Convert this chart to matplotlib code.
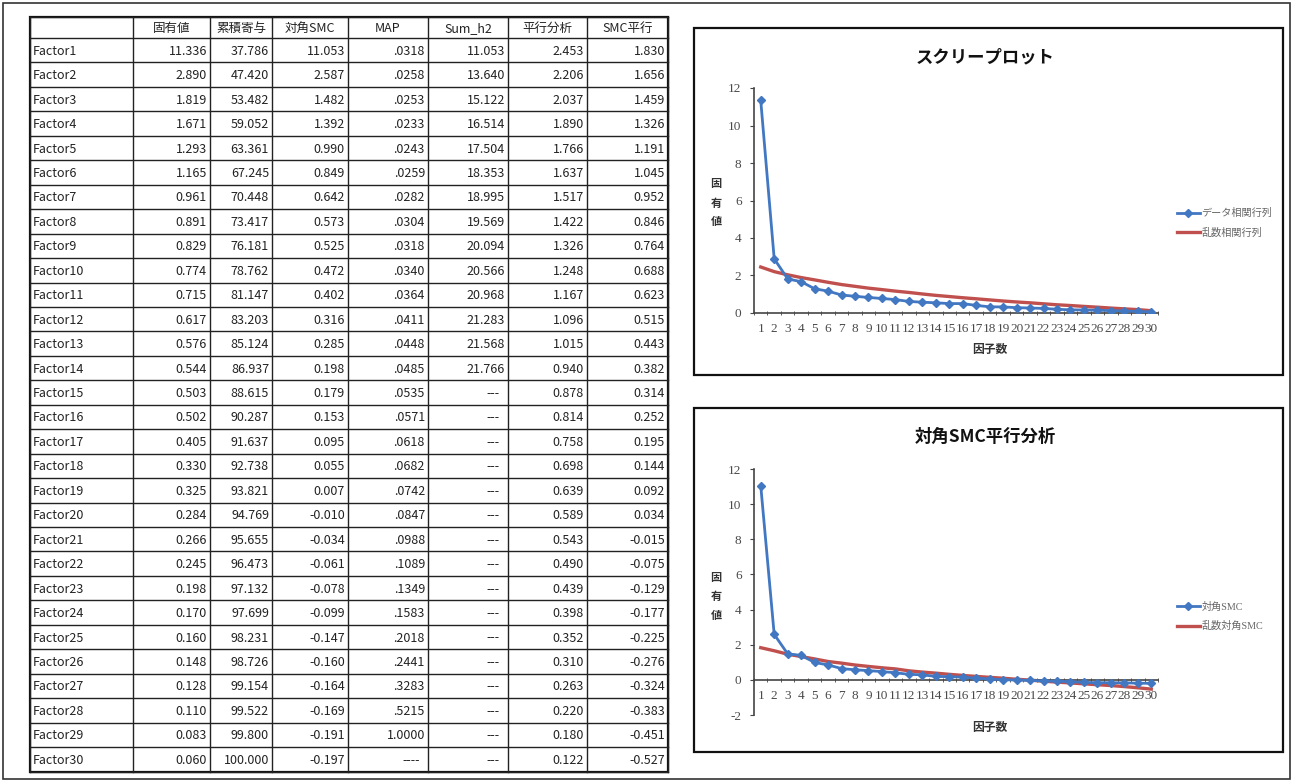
import matplotlib.pyplot as plt
from matplotlib.patches import Rectangle

plt.rcParams['font.family'] = ['Noto Sans CJK JP', 'DejaVu Sans']
plt.rcParams['axes.unicode_minus'] = False

# ---- data ----
factors = [f"Factor{i}" for i in range(1, 31)]
headers = ["", "固有値", "累積寄与", "対角SMC", "MAP", "Sum_h2", "平行分析", "SMC平行"]

eigen = [11.336, 2.890, 1.819, 1.671, 1.293, 1.165, 0.961, 0.891, 0.829, 0.774,
         0.715, 0.617, 0.576, 0.544, 0.503, 0.502, 0.405, 0.330, 0.325, 0.284,
         0.266, 0.245, 0.198, 0.170, 0.160, 0.148, 0.128, 0.110, 0.083, 0.060]
cumul = [37.786, 47.420, 53.482, 59.052, 63.361, 67.245, 70.448, 73.417, 76.181, 78.762,
         81.147, 83.203, 85.124, 86.937, 88.615, 90.287, 91.637, 92.738, 93.821, 94.769,
         95.655, 96.473, 97.132, 97.699, 98.231, 98.726, 99.154, 99.522, 99.800, 100.000]
smc = [11.053, 2.587, 1.482, 1.392, 0.990, 0.849, 0.642, 0.573, 0.525, 0.472,
       0.402, 0.316, 0.285, 0.198, 0.179, 0.153, 0.095, 0.055, 0.007, -0.010,
       -0.034, -0.061, -0.078, -0.099, -0.147, -0.160, -0.164, -0.169, -0.191, -0.197]
map_vals = [0.0318, 0.0258, 0.0253, 0.0233, 0.0243, 0.0259, 0.0282, 0.0304, 0.0318, 0.0340,
            0.0364, 0.0411, 0.0448, 0.0485, 0.0535, 0.0571, 0.0618, 0.0682, 0.0742, 0.0847,
            0.0988, 0.1089, 0.1349, 0.1583, 0.2018, 0.2441, 0.3283, 0.5215, 1.0000, None]
sum_h2 = [11.053, 13.640, 15.122, 16.514, 17.504, 18.353, 18.995, 19.569, 20.094, 20.566,
          20.968, 21.283, 21.568, 21.766] + [None] * 16
parallel = [2.453, 2.206, 2.037, 1.890, 1.766, 1.637, 1.517, 1.422, 1.326, 1.248,
            1.167, 1.096, 1.015, 0.940, 0.878, 0.814, 0.758, 0.698, 0.639, 0.589,
            0.543, 0.490, 0.439, 0.398, 0.352, 0.310, 0.263, 0.220, 0.180, 0.122]
smc_parallel = [1.830, 1.656, 1.459, 1.326, 1.191, 1.045, 0.952, 0.846, 0.764, 0.688,
                0.623, 0.515, 0.443, 0.382, 0.314, 0.252, 0.195, 0.144, 0.092, 0.034,
                -0.015, -0.075, -0.129, -0.177, -0.225, -0.276, -0.324, -0.383, -0.451, -0.527]
x = list(range(1, 31))

W, H = 1293, 782
fig = plt.figure(figsize=(W / 100, H / 100), dpi=100)
bg = fig.add_axes([0, 0, 1, 1])
bg.set_xlim(0, W)
bg.set_ylim(H, 0)
bg.axis('off')

# outer frame
bg.add_patch(Rectangle((3, 3), W - 6, H - 6, fill=False, ec='#333333', lw=1.2))


def fmt3(v):
    return f"{v:.3f}"


def fmt_map(v):
    if v is None:
        return "----"
    s = f"{v:.4f}"
    return s[1:] if s.startswith("0") else s


def fmt_opt(v):
    return "---" if v is None else f"{v:.3f}"


# ---- table ----
col_x = [30, 133, 210, 272, 348, 428, 508, 587, 668]
top, head_bot, row_h = 17, 38, 24.45
bottom = head_bot + 30 * row_h
row_y = [top, head_bot] + [head_bot + i * row_h for i in range(1, 31)]

for y in row_y:
    bg.plot([col_x[0], col_x[-1]], [y, y], color='#222222', lw=1)
for cx in col_x:
    bg.plot([cx, cx], [top, bottom], color='#222222', lw=1)
bg.add_patch(Rectangle((col_x[0], top), col_x[-1] - col_x[0], bottom - top,
                       fill=False, ec='#111111', lw=1.6))

for j, h in enumerate(headers):
    bg.text((col_x[j] + col_x[j + 1]) / 2, (top + head_bot) / 2 + 1, h,
            ha='center', va='center', fontsize=9, color='#222222')

columns = [
    [fmt3(v) for v in eigen],
    [fmt3(v) for v in cumul],
    [fmt3(v) for v in smc],
    [fmt_map(v) for v in map_vals],
    [fmt_opt(v) for v in sum_h2],
    [fmt3(v) for v in parallel],
    [fmt3(v) for v in smc_parallel],
]
for i, name in enumerate(factors):
    yc = head_bot + (i + 0.5) * row_h + 1
    bg.text(col_x[0] + 3, yc, name, ha='left', va='center', fontsize=9, color='#222222')
    for j, col in enumerate(columns):
        txt = col[i]
        pad = 8 if txt.startswith("---") else 3
        bg.text(col_x[j + 2] - pad, yc, txt, ha='right', va='center',
                fontsize=9, color='#222222')


# ---- charts ----
def px_axes(l, t, r, b):
    return fig.add_axes([l / W, 1 - b / H, (r - l) / W, (b - t) / H])


serif = ['Liberation Serif', 'DejaVu Serif']
blue = '#4277c2'
red = '#c0504d'


def draw_chart(box, ax_px, title, ylim, y1, y2, labels, zero_axis, ylab_y, xlab_y):
    bl, bt, br, bb = box
    bg.add_patch(Rectangle((bl, bt), br - bl, bb - bt, fill=False, ec='#111111', lw=1.6))
    ax = px_axes(*ax_px)
    ax.patch.set_alpha(0)
    l2, = ax.plot(x, y2, color=red, lw=2.4, zorder=2)
    l1, = ax.plot(x, y1, color=blue, lw=2, marker='D', ms=4.5, zorder=3)
    ax.set_xlim(0.5, 30.5)
    ax.set_ylim(*ylim)
    for s in ['top', 'right']:
        ax.spines[s].set_visible(False)
    for s in ['left', 'bottom']:
        ax.spines[s].set_color('#444444')
        ax.spines[s].set_linewidth(1.2)
    if zero_axis:
        ax.spines['bottom'].set_position(('data', 0))
    ax.set_yticks(range(ylim[0], ylim[1] + 1, 2))
    ax.set_xticks(x)
    ax.set_xticks([v + 0.5 for v in range(0, 31)], minor=True)
    ax.tick_params(axis='x', which='major', length=0, pad=7)
    ax.tick_params(axis='x', which='minor', length=3, direction='inout', color='#444444')
    ax.tick_params(axis='y', length=3, color='#444444', pad=6)
    for lab in ax.get_xticklabels() + ax.get_yticklabels():
        lab.set_fontfamily(serif)
        lab.set_fontsize(9.5)
        lab.set_color('#4a4a4a')
    leg = ax.legend([l1, l2], labels, loc='center left', bbox_to_anchor=(1.025, 0.4),
                    frameon=False, handlelength=2.2, handletextpad=0.2, labelspacing=0.9,
                    prop={'family': serif + ['Noto Sans CJK JP'], 'size': 7.3})
    for t in leg.get_texts():
        t.set_color('#666666')
    cx = (bl + br) / 2
    bg.text(cx - 3, bt + 29, title, ha='center', va='center', fontsize=12.5,
            fontweight='bold', color='#111111')
    bg.text(716, ylab_y, "固\n有\n値", ha='center', va='center',
            fontsize=8, fontweight='bold', color='#333333', linespacing=1.6)
    bg.text(990, xlab_y, "因子数", ha='center', va='center', fontsize=8.5,
            fontweight='bold', color='#333333')
    return ax


draw_chart((694, 28, 1283, 375), (754, 88, 1158, 313), "スクリープロット", (0, 12),
           eigen, parallel, ["データ相関行列", "乱数相関行列"], False, 203, 349)

draw_chart((694, 408, 1283, 752), (754, 469, 1158, 715), "対角SMC平行分析", (-2, 12),
           smc, smc_parallel, ["対角SMC", "乱数対角SMC"], True, 596, 728)

fig.savefig("out.png", dpi=100)
